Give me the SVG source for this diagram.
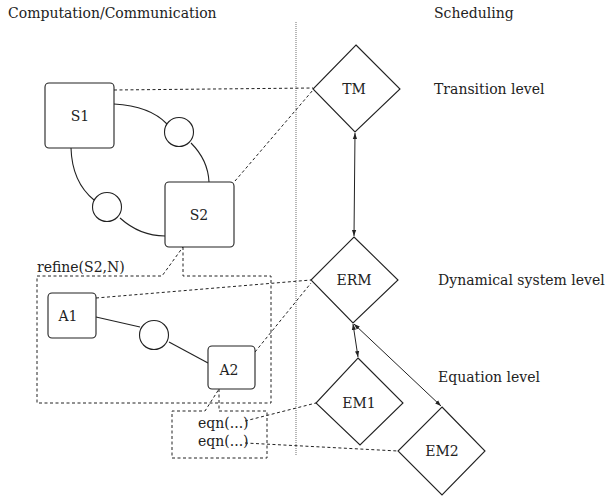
<svg xmlns="http://www.w3.org/2000/svg" width="605" height="496" viewBox="0 0 605 496">
<style>
text{font-family:"DejaVu Serif","Liberation Serif",serif;font-size:14px;fill:#222}
.c{text-anchor:middle;dominant-baseline:central}
.box{fill:#fff;stroke:#222;stroke-width:1.1}
.dia{fill:#fff;stroke:#222;stroke-width:1.1}
.sol{fill:none;stroke:#222;stroke-width:1.1}
.dash{fill:none;stroke:#222;stroke-width:1;stroke-dasharray:3,2.5}
.arr{fill:none;stroke:#222;stroke-width:1;marker-start:url(#ah);marker-end:url(#ah)}
</style>
<defs>
<marker id="ah" viewBox="0 0 10 10" refX="10" refY="5" markerWidth="6" markerHeight="6" orient="auto-start-reverse" markerUnits="userSpaceOnUse">
<path d="M0,1.5 L10,5 L0,8.5 z" fill="#222"/>
</marker>
</defs>
<rect width="605" height="496" fill="#fff"/>
<text x="8" y="18">Computation/Communication</text>
<text x="434" y="18">Scheduling</text>
<text x="434" y="94">Transition level</text>
<text x="438" y="285">Dynamical system level</text>
<text x="438" y="382">Equation level</text>
<line x1="296" y1="22" x2="296" y2="456" stroke="#888" stroke-width="1.2" stroke-dasharray="1,1"/>
<g id="connectors">
<path class="sol" d="M114,104 Q150,106 167,124"/>
<path class="sol" d="M191,143 Q208,160 209,182"/>
<path class="sol" d="M71,148 Q72,182 94,200"/>
<path class="sol" d="M120,218 Q140,236 165,236"/>
<line class="sol" x1="96" y1="317" x2="140" y2="327"/>
<line class="sol" x1="169" y1="342" x2="208" y2="363"/>
<line class="dash" x1="114" y1="90" x2="313" y2="88"/>
<line class="dash" x1="235" y1="181" x2="313" y2="90"/>
<line class="dash" x1="96" y1="298" x2="311" y2="280"/>
<line class="dash" x1="255" y1="352" x2="311" y2="283"/>
<line class="dash" x1="245" y1="421" x2="316" y2="403"/>
<line class="dash" x1="245" y1="443" x2="398" y2="451"/>
<path class="dash" d="M183,247 L183,276 L271,276 L271,403 L37,403 L37,276 L162,276 Z"/>
<path class="dash" d="M219,389 L219,411 L267,411 L267,458 L172,458 L172,411 L205,411 Z"/>
<line class="arr" x1="355" y1="133" x2="354" y2="236"/>
<line class="arr" x1="353" y1="324" x2="358" y2="357"/>
<line class="arr" x1="354" y1="324" x2="441" y2="406"/>
</g>
<g id="S1"><rect class="box" x="45" y="83" width="69" height="65" rx="4"/><text class="c" x="80" y="116">S1</text></g>
<g id="S2"><rect class="box" x="165" y="182" width="69" height="65" rx="4"/><text class="c" x="199" y="215">S2</text></g>
<g id="C1"><circle class="box" cx="179" cy="132" r="14.5"/></g>
<g id="C2"><circle class="box" cx="107" cy="207" r="14.5"/></g>
<g id="refine"><text x="37" y="272">refine(S2,N)</text></g>
<g id="A1"><rect class="box" x="48" y="293" width="48" height="45" rx="4"/><text class="c" x="68" y="316">A1</text></g>
<g id="C3"><circle class="box" cx="154" cy="335" r="14.5"/></g>
<g id="A2"><rect class="box" x="208" y="346" width="47" height="43" rx="4"/><text class="c" x="229" y="370">A2</text></g>
<g id="eqn"><text x="198" y="428">eqn(...)</text><text x="198" y="446">eqn(...)</text></g>
<g id="TM"><polygon class="dia" points="356,45 400,89 355,132 313,89"/><text class="c" x="354" y="89">TM</text></g>
<g id="ERM"><polygon class="dia" points="354,237 398,280 353,323 311,280"/><text class="c" x="354" y="280">ERM</text></g>
<g id="EM1"><polygon class="dia" points="358,358 403,403 360,445 316,403"/><text class="c" x="359" y="403">EM1</text></g>
<g id="EM2"><polygon class="dia" points="442,407 485,451 442,495 398,451"/><text class="c" x="442" y="451">EM2</text></g>
</svg>
